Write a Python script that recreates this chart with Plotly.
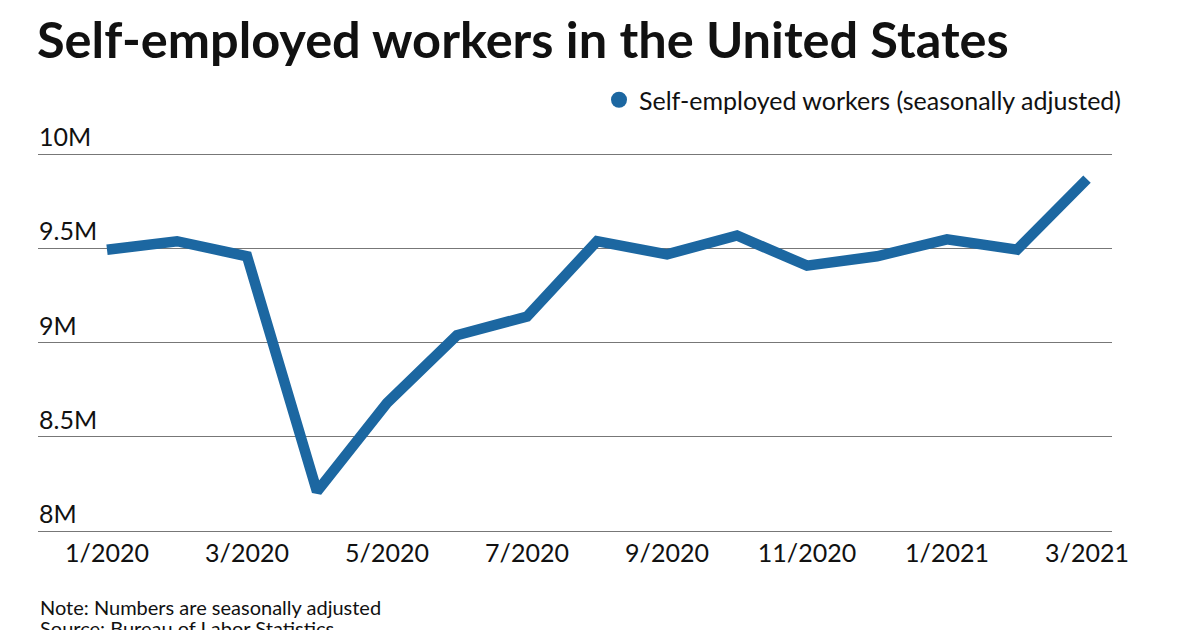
import plotly.graph_objects as go

months = ["1/2020", "2/2020", "3/2020", "4/2020", "5/2020", "6/2020", "7/2020", "8/2020",
          "9/2020", "10/2020", "11/2020", "12/2020", "1/2021", "2/2021", "3/2021"]
workers = [9.495e6, 9.54e6, 9.46e6, 8.21e6, 8.68e6, 9.04e6, 9.14e6, 9.54e6,
           9.47e6, 9.57e6, 9.41e6, 9.46e6, 9.55e6, 9.495e6, 9.87e6]
y_tickvals = [8e6, 8.5e6, 9e6, 9.5e6, 10e6]
y_ticktext = ["8M", "8.5M", "9M", "9.5M", "10M"]
x_ticklabels = months[::2]
footer_lines = ["Note: Numbers are seasonally adjusted", "Source: Bureau of Labor Statistics"]

x_idx = list(range(len(months)))
LINE = "#1c67a1"
FONT = "Lato, 'Noto Sans', sans-serif"

# page body adds an 8px offset; positions below are compensated
ML, MR, MT, MB = 30, 96, 109, 107
PH = 630 - MT - MB

fig = go.Figure()
fig.add_trace(go.Scatter(x=x_idx, y=workers, mode="lines",
                         line=dict(color=LINE, width=10.5),
                         showlegend=False, hoverinfo="skip"))
fig.add_trace(go.Scatter(x=[None], y=[None], mode="markers",
                         marker=dict(color=LINE, size=18),
                         name="Self-employed workers (seasonally adjusted)"))

footer_centers = [599, 620]  # figure pixel rows
annotations = [dict(text=t, xref="paper", yref="paper", x=0, y=(630 - MB - yc) / PH,
                    xanchor="left", yanchor="middle", align="left", showarrow=False,
                    font=dict(size=20, color="#111111"))
               for t, yc in zip(footer_lines, footer_centers)]

fig.update_layout(
    width=1200, height=630,
    margin=dict(l=ML, r=MR, t=MT, b=MB, autoexpand=False),
    paper_bgcolor="white", plot_bgcolor="white",
    font=dict(family=FONT, color="#111111", size=25),
    title=dict(text="Self-employed workers in the United States",
               font=dict(family=FONT, size=50.5, weight=700, color="#111111"),
               xref="container", yref="container", x=29/1200, xanchor="left",
               y=1-32/630, yanchor="middle", pad=dict(l=0, r=0, t=0, b=0)),
    legend=dict(xref="container", yref="container", x=1119/1200, xanchor="right",
                y=1-92/630, yanchor="middle", font=dict(size=25, color="#111111"),
                bgcolor="rgba(0,0,0,0)", itemwidth=30),
    xaxis=dict(range=[-69/70, 14 + 25/70], tickvals=x_idx[::2], ticktext=x_ticklabels,
               tickangle=0, showgrid=False, zeroline=False, showline=True,
               linecolor="#777777", linewidth=1, ticks="", ticklen=0,
               tickfont=dict(size=25, color="#111111")),
    yaxis=dict(range=[8e6, 10.2e6], tickvals=y_tickvals, ticktext=y_ticktext,
               showgrid=True, gridcolor="#777777", gridwidth=1, zeroline=False,
               showline=False, ticklabelposition="inside", ticklabelshift=-17,
               ticklabelstandoff=-2, tickfont=dict(size=25, color="#111111")),
    annotations=annotations,
)

fig.write_html("out.html")
